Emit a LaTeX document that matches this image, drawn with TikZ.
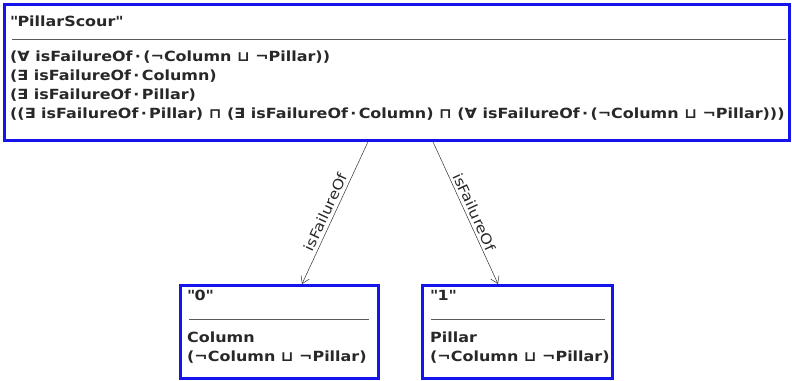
\documentclass[tikz,border=0pt]{standalone}
\usepackage{fontspec}
\setmainfont{DejaVu Sans}[FakeStretch=1.14]
\usetikzlibrary{arrows.meta}
\definecolor{boxblue}{RGB}{20,20,235}
\definecolor{txt}{RGB}{40,40,40}
\tikzset{
  cls/.style={draw=boxblue, line width=2.8pt, fill=white, anchor=north west, inner sep=0pt},
  ln/.style={anchor=base west, inner sep=0pt, text=txt, font=\fontsize{14}{16}\selectfont\bfseries},
  sep/.style={draw=gray!70!black, line width=0.8pt},
  rel/.style={draw=black!80, line width=0.5pt, -{Straight Barb[length=7pt,width=9pt]}},
  rlab/.style={font=\fontsize{14}{16}\selectfont, text=txt, inner sep=3pt, sloped}
}
\begin{document}
\begin{tikzpicture}[x=1pt,y=-1pt]
\useasboundingbox (0,0) rectangle (792,380);
% top box
\node[cls, minimum width=785pt, minimum height=136pt] (top) at (3,3) {};
\node[ln] (t0) at (10,27) {\textquotedbl PillarScour\textquotedbl};
\draw[sep] (12,39) -- (786,39);
\node[ln] (t1) at (10,61) {(∀ isFailureOf\,·\,(¬Column ⊔ ¬Pillar))};
\node[ln] (t2) at (10,80) {(∃ isFailureOf\,·\,Column)};
\node[ln] (t3) at (10,99) {(∃ isFailureOf\,·\,Pillar)};
\node[ln] (t4) at (10,118) {((∃ isFailureOf\,·\,Pillar) ⊓ (∃ isFailureOf\,·\,Column) ⊓ (∀ isFailureOf\,·\,(¬Column ⊔ ¬Pillar)))};
% left box
\node[cls, minimum width=198pt, minimum height=93pt] (b0) at (179,284) {};
\node[ln] (b0t) at (187,300) {\textquotedbl 0\textquotedbl};
\draw[sep] (189,319) -- (369,319);
\node[ln] (b0a) at (187,342) {Column};
\node[ln] (b0b) at (187,361) {(¬Column ⊔ ¬Pillar)};
% right box
\node[cls, minimum width=190pt, minimum height=93pt] (b1) at (421,284) {};
\node[ln] (b1t) at (430,300) {\textquotedbl 1\textquotedbl};
\draw[sep] (431,319) -- (605,319);
\node[ln] (b1a) at (430,342) {Pillar};
\node[ln] (b1b) at (430,361) {(¬Column ⊔ ¬Pillar)};
% connectors
\coordinate (s0) at ([xshift=365pt]top.south west);
\coordinate (s1) at ([xshift=430pt]top.south west);
\coordinate (e0) at ([xshift=123pt]b0.north west);
\coordinate (e1) at ([xshift=77pt]b1.north west);
\draw[rel] (s0) -- node[rlab, above, pos=0.52] {isFailureOf} (e0);
\draw[rel] (s1) -- node[rlab, above, pos=0.52] {isFailureOf} (e1);
\end{tikzpicture}
\end{document}
